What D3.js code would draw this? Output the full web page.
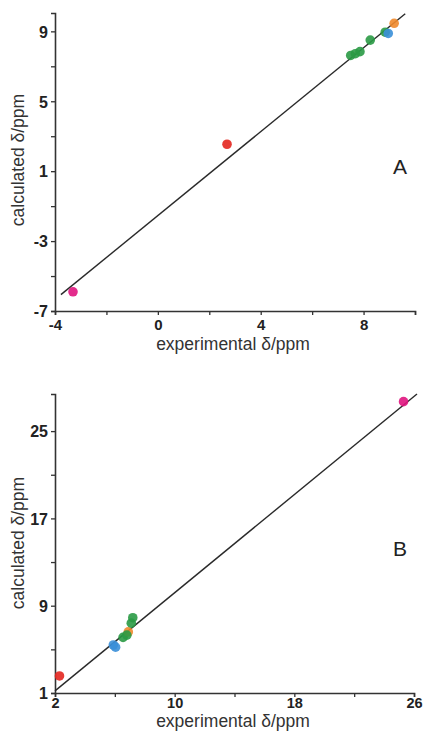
<!DOCTYPE html>
<html><head><meta charset="utf-8">
<script src="https://cdn.jsdelivr.net/npm/d3@7"></script>
<style>
html,body{margin:0;padding:0;background:#fff;}
svg{display:block;font-family:"Liberation Sans",Arial,sans-serif;}
</style></head>
<body><svg id="c" width="424" height="734"></svg>
<script>
// Panel A data
const groupsA = ["pink","red","green","green","green","green","green","blue","orange"];
const expA = [-3.3, 2.69, 7.5, 7.68, 7.86, 8.26, 8.84, 8.96, 9.19];
const calA = [-5.9, 2.54, 7.62, 7.72, 7.84, 8.5, 8.95, 8.88, 9.46];
const xTicksA = [-4, 0, 4, 8];
const yTicksA = [-7, -3, 1, 5, 9];
const fitA = {x: [-3.77, 9.62], slope: 1.2, intercept: -1.54};

// Panel B data
const groupsB = ["pink","red","blue","blue","green","orange","green","green","green"];
const expB = [25.3, 2.3, 5.9, 6.05, 6.55, 6.9, 6.8, 7.1, 7.2];
const calB = [27.7, 2.56, 5.4, 5.2, 6.1, 6.6, 6.3, 7.4, 7.9];
const xTicksB = [2, 10, 18, 26];
const yTicksB = [1, 9, 17, 25];
const fitB = {x: [2, 26.2], slope: 1.124, intercept: -1.05};

const color = d3.scaleOrdinal()
  .domain(["pink","red","green","blue","orange"])
  .range(["#e0157f","#e3261f","#2a9a45","#3a8fd8","#f08a2c"]);

const svg = d3.select("#c");

function panel(cfg){
  const g = svg.append("g");
  const x = d3.scaleLinear().domain(cfg.xd).range([cfg.left, cfg.right]);
  const y = d3.scaleLinear().domain(cfg.yd).range([cfg.bottom, cfg.top]);
  const xMinor = cfg.xTicks.slice(0,-1).map((t,i)=>(t+cfg.xTicks[i+1])/2);
  const yMinor = cfg.yTicks.slice(0,-1).map((t,i)=>(t+cfg.yTicks[i+1])/2);
  const yStep = cfg.yTicks[1]-cfg.yTicks[0];
  if (cfg.yTicks[cfg.yTicks.length-1] + yStep/2 <= cfg.yd[1]) yMinor.push(cfg.yTicks[cfg.yTicks.length-1] + yStep/2);
  if (cfg.xExtra) xMinor.push(...cfg.xExtra);

  const xa = g.append("g").attr("transform",`translate(0,${cfg.bottom})`)
    .call(d3.axisBottom(x).tickValues(cfg.xTicks.concat(xMinor)).tickSize(4).tickPadding(0)
      .tickFormat(d=>cfg.xTicks.includes(d)?d:""));
  const ya = g.append("g").attr("transform",`translate(${cfg.left},0)`)
    .call(d3.axisLeft(y).tickValues(cfg.yTicks.concat(yMinor)).tickSize(4).tickPadding(3)
      .tickFormat(d=>cfg.yTicks.includes(d)?d:""));
  [xa,ya].forEach(a=>{
    a.select(".domain").attr("stroke","#333").attr("stroke-width",1.6);
    a.selectAll(".tick line").attr("stroke","#333").attr("stroke-width",1.3);
    a.selectAll("text").attr("fill","#222").attr("font-weight","bold")
      .attr("font-family","'Liberation Sans',Arial,sans-serif");
  });
  ya.selectAll("text").attr("font-size",16).attr("dy","0.36em");
  xa.selectAll("text").attr("font-size",cfg.xTickFont).attr("dy",null)
    .attr("y",cfg.xTickBase - cfg.bottom);

  // fit line
  g.append("line")
    .attr("x1",x(cfg.fit.x[0])).attr("y1",y(cfg.fit.intercept+cfg.fit.slope*cfg.fit.x[0]))
    .attr("x2",x(cfg.fit.x[1])).attr("y2",y(cfg.fit.intercept+cfg.fit.slope*cfg.fit.x[1]))
    .attr("stroke","#2a2a2a").attr("stroke-width",1.4);

  // points
  g.selectAll("circle.p").data(cfg.xs.map((v,i)=>({x:v,y:cfg.ys[i],g:cfg.groups[i]})))
    .enter().append("circle")
    .attr("cx",d=>x(d.x)).attr("cy",d=>y(d.y)).attr("r",4.8)
    .attr("fill",d=>color(d.g)).attr("fill-opacity",0.9);

  // axis titles
  g.append("text").attr("x",233).attr("y",cfg.xLabelY).attr("text-anchor","middle")
    .attr("font-size",17.5).attr("fill","#333").text("experimental δ/ppm");
  g.append("text").attr("transform",`translate(24,${cfg.yLabelC}) rotate(-90)`)
    .attr("text-anchor","middle").attr("font-size",17.5).attr("fill","#333").text("calculated δ/ppm");
  g.append("text").attr("x",400).attr("y",cfg.letterY).attr("text-anchor","middle")
    .attr("font-size",21).attr("fill","#222").text(cfg.letter);
}

panel({xd:[-4,10], yd:[-7,10.05], left:55, right:415, top:13, bottom:311,
  xTicks:xTicksA, yTicks:yTicksA, xExtra:[10], fit:fitA,
  xs:expA, ys:calA, groups:groupsA, xTickFont:15, xTickBase:330,
  xLabelY:349.5, yLabelC:160, letter:"A", letterY:174});

panel({xd:[2,26], yd:[1,28.4], left:55, right:414, top:394, bottom:693,
  xTicks:xTicksB, yTicks:yTicksB, fit:fitB,
  xs:expB, ys:calB, groups:groupsB, xTickFont:14.5, xTickBase:708,
  xLabelY:727, yLabelC:543, letter:"B", letterY:556});
</script></body></html>
